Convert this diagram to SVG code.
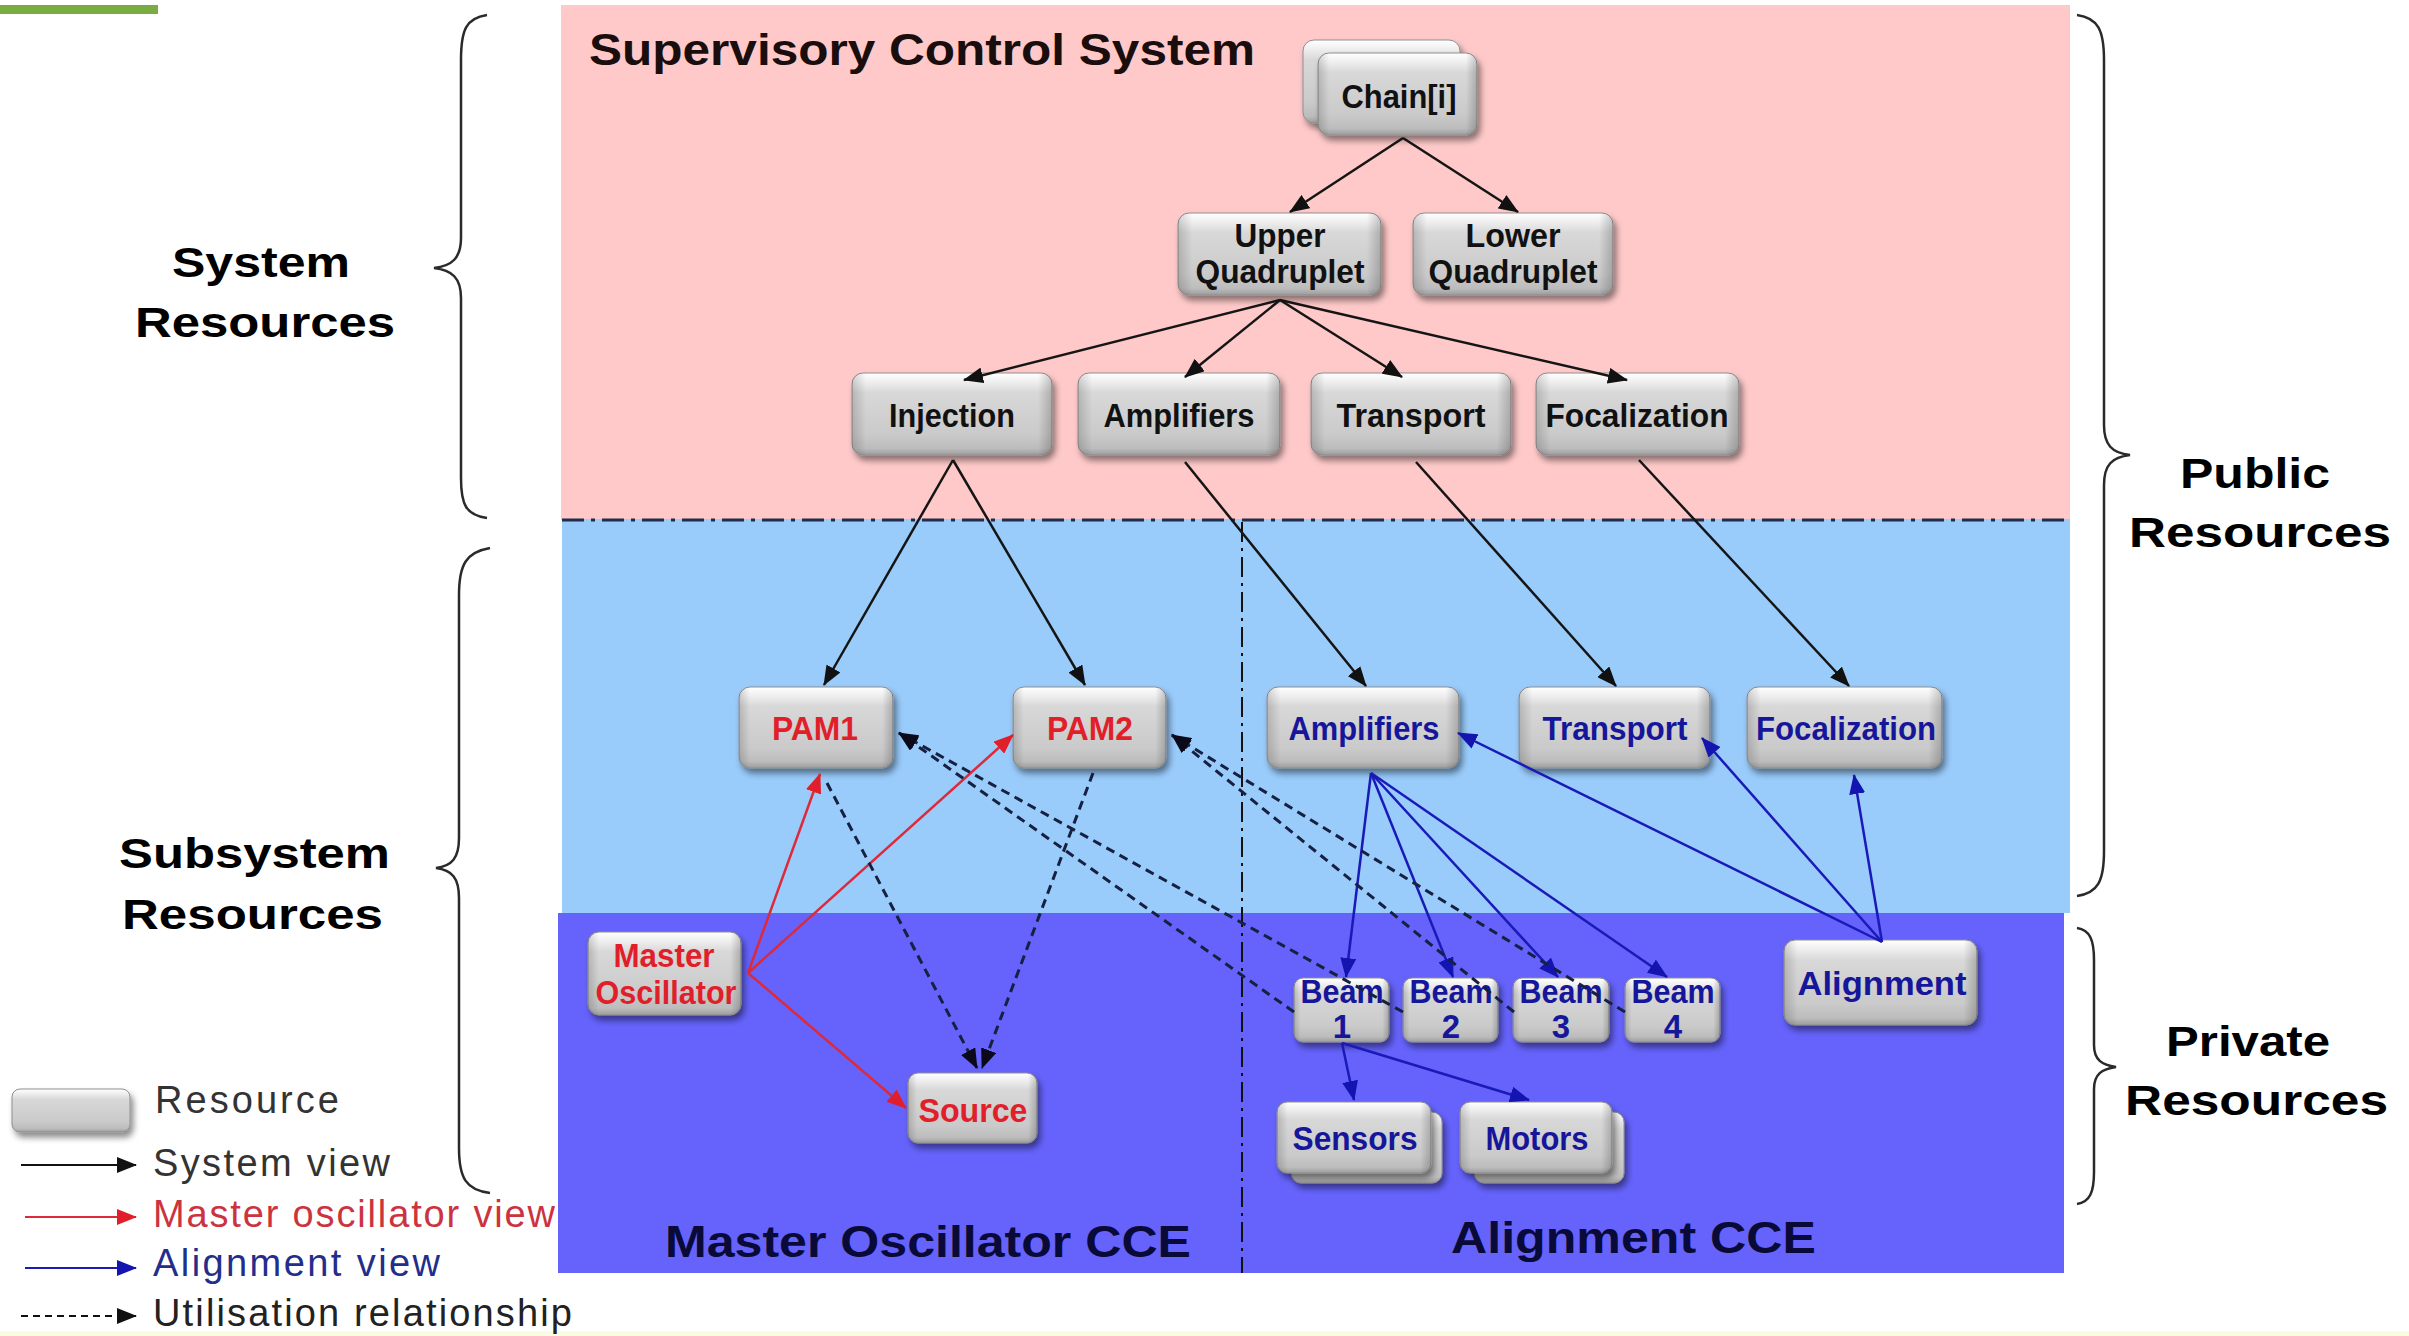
<svg xmlns="http://www.w3.org/2000/svg" width="2409" height="1336" viewBox="0 0 2409 1336">
<defs>
<style>
.box{fill:url(#gBox);stroke:#8f8f8f;stroke-width:1;filter:url(#sh)}
.side{fill:url(#gSide);pointer-events:none}
.nt{font-family:"Liberation Sans",Arial,sans-serif;font-weight:bold;font-size:33px;text-anchor:middle}
.k{fill:#111}
.r{fill:#e01f2b}
.b{fill:#16169a}
.big{font-family:"Liberation Sans",Arial,sans-serif;font-weight:bold;font-size:42px;fill:#000}
.title{font-family:"Liberation Sans",Arial,sans-serif;font-weight:bold;font-size:45px}
.leg{font-family:"Liberation Sans",Arial,sans-serif;font-size:38px}
.brace{fill:none;stroke:#2a2a2a;stroke-width:2.5}
.sys{fill:none;stroke:#151515;stroke-width:2.5;marker-end:url(#mK)}
.mo{fill:none;stroke:#dd2a3a;stroke-width:2.5;marker-end:url(#mR)}
.al{fill:none;stroke:#1a1ab8;stroke-width:2.5;marker-end:url(#mB)}
.ut{fill:none;stroke:#162040;stroke-width:3;stroke-dasharray:9 6;marker-end:url(#mD)}
</style>
<linearGradient id="gBox" x1="0" y1="0" x2="0" y2="1">
<stop offset="0" stop-color="#ffffff"/>
<stop offset="0.1" stop-color="#f0f0f0"/>
<stop offset="0.24" stop-color="#d8d8d8"/>
<stop offset="0.75" stop-color="#cacaca"/>
<stop offset="0.92" stop-color="#bcbcbc"/>
<stop offset="1" stop-color="#9c9c9c"/>
</linearGradient>
<linearGradient id="gSide" x1="0" y1="0" x2="1" y2="0">
<stop offset="0" stop-color="#000" stop-opacity="0.16"/>
<stop offset="0.07" stop-color="#000" stop-opacity="0"/>
<stop offset="0.93" stop-color="#000" stop-opacity="0"/>
<stop offset="1" stop-color="#000" stop-opacity="0.2"/>
</linearGradient>
<filter id="sh" x="-20%" y="-20%" width="150%" height="160%">
<feDropShadow dx="3" dy="5" stdDeviation="3" flood-color="#000" flood-opacity="0.45"/>
</filter>
<marker id="mK" markerUnits="userSpaceOnUse" markerWidth="20" markerHeight="16" refX="19" refY="8" orient="auto"><path d="M0,0 L20,8 L0,16 z" fill="#111"/></marker>
<marker id="mR" markerUnits="userSpaceOnUse" markerWidth="20" markerHeight="16" refX="19" refY="8" orient="auto"><path d="M0,0 L20,8 L0,16 z" fill="#e01f2b"/></marker>
<marker id="mB" markerUnits="userSpaceOnUse" markerWidth="20" markerHeight="16" refX="19" refY="8" orient="auto"><path d="M0,0 L20,8 L0,16 z" fill="#1414b0"/></marker>
<marker id="mD" markerUnits="userSpaceOnUse" markerWidth="20" markerHeight="16" refX="19" refY="8" orient="auto"><path d="M0,0 L20,8 L0,16 z" fill="#0a0a1a"/></marker>
</defs>

<rect width="2409" height="1336" fill="#ffffff"/>
<rect x="0" y="1331" width="2409" height="5" fill="#fbfbe2"/>
<rect x="0" y="5" width="158" height="9" fill="#79ad41"/>

<g id="regions">
<rect x="561" y="5" width="1509" height="515" fill="#ffc9c9"/>
<rect x="562" y="519" width="1508" height="394" fill="#99cbfb"/>
<rect x="558" y="913" width="1506" height="360" fill="#6563fc"/>
<line x1="562" y1="520" x2="2070" y2="520" stroke="#1f2c4a" stroke-width="3" stroke-dasharray="22 7 4 7"/>
<line x1="1242" y1="522" x2="1242" y2="1273" stroke="#111" stroke-width="2" stroke-dasharray="20 6 3 6"/>
<text class="title" x="589" y="65" fill="#1a0d0d" textLength="666" lengthAdjust="spacingAndGlyphs">Supervisory Control System</text>
<text class="title" x="665" y="1257" fill="#0a0a38" font-size="47" textLength="526" lengthAdjust="spacingAndGlyphs">Master Oscillator CCE</text>
<text class="title" x="1451" y="1253" fill="#0a0a38" font-size="47" textLength="365" lengthAdjust="spacingAndGlyphs">Alignment CCE</text>
</g>

<g id="braces">
<path class="brace" d="M487,15 C466,18 461,30 461,60 L461,238 C461,258 452,266 434,268 C452,270 461,278 461,298 L461,478 C461,505 466,515 487,518"/>
<path class="brace" d="M490,548 C466,552 459,565 459,595 L459,838 C459,858 452,866 436,868 C452,870 459,878 459,898 L459,1148 C459,1178 466,1190 490,1193"/>
<path class="brace" d="M2077,15 C2098,18 2104,30 2104,60 L2104,425 C2104,445 2112,453 2130,455 C2112,457 2104,465 2104,485 L2104,851 C2104,881 2098,893 2077,896"/>
<path class="brace" d="M2077,928 C2090,930 2094,940 2094,960 L2094,1045 C2094,1060 2102,1065 2116,1067 C2102,1069 2094,1074 2094,1089 L2094,1172 C2094,1192 2090,1202 2077,1204"/>
<text class="big" x="172" y="277" textLength="178" lengthAdjust="spacingAndGlyphs">System</text>
<text class="big" x="135" y="337" textLength="260" lengthAdjust="spacingAndGlyphs">Resources</text>
<text class="big" x="119" y="868" textLength="271" lengthAdjust="spacingAndGlyphs">Subsystem</text>
<text class="big" x="122" y="929" textLength="261" lengthAdjust="spacingAndGlyphs">Resources</text>
<text class="big" x="2180" y="488" textLength="150" lengthAdjust="spacingAndGlyphs">Public</text>
<text class="big" x="2129" y="547" textLength="262" lengthAdjust="spacingAndGlyphs">Resources</text>
<text class="big" x="2166" y="1056" textLength="164" lengthAdjust="spacingAndGlyphs">Private</text>
<text class="big" x="2125" y="1115" textLength="263" lengthAdjust="spacingAndGlyphs">Resources</text>
</g>

<g id="legend">
<rect class="box" x="12" y="1089" width="118" height="43" rx="8"/>
<text class="leg" x="155" y="1113" fill="#333" textLength="184">Resource</text>
<line x1="21" y1="1165" x2="136" y2="1165" stroke="#111" stroke-width="2" marker-end="url(#mK)"/>
<text class="leg" x="153" y="1176" fill="#333" textLength="237">System view</text>
<line x1="25" y1="1217" x2="136" y2="1217" stroke="#dd2a3a" stroke-width="2" marker-end="url(#mR)"/>
<text class="leg" x="153" y="1227" fill="#cc3340" textLength="402">Master oscillator view</text>
<line x1="25" y1="1268" x2="136" y2="1268" stroke="#1a1ab8" stroke-width="2" marker-end="url(#mB)"/>
<text class="leg" x="153" y="1276" fill="#232e8c" textLength="287">Alignment view</text>
<line x1="21" y1="1316" x2="136" y2="1316" stroke="#111" stroke-width="2" stroke-dasharray="7 5" marker-end="url(#mK)"/>
<text class="leg" x="153" y="1326" fill="#222" textLength="419">Utilisation relationship</text>
</g>

<g id="n-chain">
<rect class="box" x="1303" y="40" width="157" height="83" rx="11"/>
<rect class="box" x="1318" y="53" width="159" height="82" rx="11"/>
<rect class="side" x="1318" y="53" width="159" height="82" rx="11"/>
<text class="nt k" x="1399" y="108" textLength="115" lengthAdjust="spacingAndGlyphs">Chain[i]</text>
</g>
<g id="n-upperq">
<rect class="box" x="1178" y="213" width="203" height="82" rx="11"/>
<rect class="side" x="1178" y="213" width="203" height="82" rx="11"/>
<text class="nt k" x="1280" y="247" textLength="91" lengthAdjust="spacingAndGlyphs">Upper</text>
<text class="nt k" x="1280" y="283" textLength="169" lengthAdjust="spacingAndGlyphs">Quadruplet</text>
</g>
<g id="n-lowerq">
<rect class="box" x="1413" y="213" width="200" height="82" rx="11"/>
<rect class="side" x="1413" y="213" width="200" height="82" rx="11"/>
<text class="nt k" x="1513" y="247" textLength="95" lengthAdjust="spacingAndGlyphs">Lower</text>
<text class="nt k" x="1513" y="283" textLength="169" lengthAdjust="spacingAndGlyphs">Quadruplet</text>
</g>
<g id="n-injection">
<rect class="box" x="852" y="373" width="200" height="82" rx="11"/>
<rect class="side" x="852" y="373" width="200" height="82" rx="11"/>
<text class="nt k" x="952" y="427" textLength="126" lengthAdjust="spacingAndGlyphs">Injection</text>
</g>
<g id="n-amplifiers">
<rect class="box" x="1078" y="373" width="202" height="82" rx="11"/>
<rect class="side" x="1078" y="373" width="202" height="82" rx="11"/>
<text class="nt k" x="1179" y="427" textLength="151" lengthAdjust="spacingAndGlyphs">Amplifiers</text>
</g>
<g id="n-transport">
<rect class="box" x="1311" y="373" width="200" height="82" rx="11"/>
<rect class="side" x="1311" y="373" width="200" height="82" rx="11"/>
<text class="nt k" x="1411" y="427" textLength="149" lengthAdjust="spacingAndGlyphs">Transport</text>
</g>
<g id="n-focalization">
<rect class="box" x="1536" y="373" width="203" height="82" rx="11"/>
<rect class="side" x="1536" y="373" width="203" height="82" rx="11"/>
<text class="nt k" x="1637" y="427" textLength="183" lengthAdjust="spacingAndGlyphs">Focalization</text>
</g>

<g id="n-pam1">
<rect class="box" x="739" y="687" width="154" height="81" rx="11"/>
<rect class="side" x="739" y="687" width="154" height="81" rx="11"/>
<text class="nt r" x="815" y="740" textLength="86" lengthAdjust="spacingAndGlyphs">PAM1</text>
</g>
<g id="n-pam2">
<rect class="box" x="1013" y="687" width="153" height="81" rx="11"/>
<rect class="side" x="1013" y="687" width="153" height="81" rx="11"/>
<text class="nt r" x="1090" y="740" textLength="86" lengthAdjust="spacingAndGlyphs">PAM2</text>
</g>
<g id="n-amps-sub">
<rect class="box" x="1267" y="687" width="192" height="81" rx="11"/>
<rect class="side" x="1267" y="687" width="192" height="81" rx="11"/>
<text class="nt b" x="1364" y="740" textLength="151" lengthAdjust="spacingAndGlyphs">Amplifiers</text>
</g>
<g id="n-transport-sub">
<rect class="box" x="1519" y="687" width="191" height="81" rx="11"/>
<rect class="side" x="1519" y="687" width="191" height="81" rx="11"/>
<text class="nt b" x="1615" y="740" textLength="145" lengthAdjust="spacingAndGlyphs">Transport</text>
</g>
<g id="n-focal-sub">
<rect class="box" x="1747" y="687" width="195" height="81" rx="11"/>
<rect class="side" x="1747" y="687" width="195" height="81" rx="11"/>
<text class="nt b" x="1846" y="740" textLength="180" lengthAdjust="spacingAndGlyphs">Focalization</text>
</g>

<g id="n-master">
<rect class="box" x="588" y="932" width="153" height="83" rx="11"/>
<rect class="side" x="588" y="932" width="153" height="83" rx="11"/>
<text class="nt r" x="664" y="967" textLength="101" lengthAdjust="spacingAndGlyphs">Master</text>
<text class="nt r" x="666" y="1004" textLength="141" lengthAdjust="spacingAndGlyphs">Oscillator</text>
</g>
<g id="n-source">
<rect class="box" x="908" y="1073" width="129" height="70" rx="10"/>
<rect class="side" x="908" y="1073" width="129" height="70" rx="10"/>
<text class="nt r" x="973" y="1122" textLength="109" lengthAdjust="spacingAndGlyphs">Source</text>
</g>
<g id="n-beam1">
<rect class="box" x="1294" y="978" width="95" height="64" rx="9"/>
<rect class="side" x="1294" y="978" width="95" height="64" rx="9"/>
<text class="nt b" x="1342" y="1003" font-size="30" textLength="83" lengthAdjust="spacingAndGlyphs">Beam</text>
<text class="nt b" x="1342" y="1038" font-size="30">1</text>
</g>
<g id="n-beam2">
<rect class="box" x="1403" y="978" width="95" height="64" rx="9"/>
<rect class="side" x="1403" y="978" width="95" height="64" rx="9"/>
<text class="nt b" x="1451" y="1003" font-size="30" textLength="83" lengthAdjust="spacingAndGlyphs">Beam</text>
<text class="nt b" x="1451" y="1038" font-size="30">2</text>
</g>
<g id="n-beam3">
<rect class="box" x="1513" y="978" width="96" height="64" rx="9"/>
<rect class="side" x="1513" y="978" width="96" height="64" rx="9"/>
<text class="nt b" x="1561" y="1003" font-size="30" textLength="83" lengthAdjust="spacingAndGlyphs">Beam</text>
<text class="nt b" x="1561" y="1038" font-size="30">3</text>
</g>
<g id="n-beam4">
<rect class="box" x="1625" y="978" width="95" height="64" rx="9"/>
<rect class="side" x="1625" y="978" width="95" height="64" rx="9"/>
<text class="nt b" x="1673" y="1003" font-size="30" textLength="83" lengthAdjust="spacingAndGlyphs">Beam</text>
<text class="nt b" x="1673" y="1038" font-size="30">4</text>
</g>
<g id="n-alignment">
<rect class="box" x="1784" y="940" width="193" height="85" rx="11"/>
<rect class="side" x="1784" y="940" width="193" height="85" rx="11"/>
<text class="nt b" x="1882" y="995" textLength="169" lengthAdjust="spacingAndGlyphs">Alignment</text>
</g>
<g id="n-sensors">
<rect class="box" x="1291" y="1112" width="151" height="71" rx="10"/>
<rect class="box" x="1277" y="1102" width="154" height="71" rx="10"/>
<rect class="side" x="1277" y="1102" width="154" height="71" rx="10"/>
<text class="nt b" x="1355" y="1150" textLength="125" lengthAdjust="spacingAndGlyphs">Sensors</text>
</g>
<g id="n-motors">
<rect class="box" x="1474" y="1112" width="150" height="71" rx="10"/>
<rect class="box" x="1460" y="1102" width="152" height="71" rx="10"/>
<rect class="side" x="1460" y="1102" width="152" height="71" rx="10"/>
<text class="nt b" x="1537" y="1150" textLength="103" lengthAdjust="spacingAndGlyphs">Motors</text>
</g>

<g id="connectors">
<line class="sys" x1="1403" y1="138" x2="1290" y2="212"/>
<line class="sys" x1="1403" y1="138" x2="1518" y2="212"/>
<line class="sys" x1="1280" y1="300" x2="964" y2="380"/>
<line class="sys" x1="1280" y1="300" x2="1185" y2="377"/>
<line class="sys" x1="1280" y1="300" x2="1402" y2="377"/>
<line class="sys" x1="1280" y1="300" x2="1627" y2="380"/>
<line class="sys" x1="953" y1="460" x2="824" y2="685"/>
<line class="sys" x1="953" y1="460" x2="1085" y2="685"/>
<line class="sys" x1="1185" y1="462" x2="1366" y2="686"/>
<line class="sys" x1="1416" y1="462" x2="1616" y2="686"/>
<line class="sys" x1="1639" y1="460" x2="1849" y2="686"/>

<line class="mo" x1="748" y1="973" x2="820" y2="774"/>
<line class="mo" x1="748" y1="973" x2="1013" y2="735"/>
<line class="mo" x1="748" y1="973" x2="906" y2="1108"/>

<line class="al" x1="1882" y1="942" x2="1458" y2="733"/>
<line class="al" x1="1882" y1="942" x2="1702" y2="738"/>
<line class="al" x1="1882" y1="942" x2="1854" y2="775"/>
<line class="al" x1="1371" y1="773" x2="1346" y2="977"/>
<line class="al" x1="1371" y1="773" x2="1453" y2="977"/>
<line class="al" x1="1371" y1="773" x2="1558" y2="977"/>
<line class="al" x1="1371" y1="773" x2="1667" y2="977"/>
<line class="al" x1="1342" y1="1043" x2="1354" y2="1100"/>
<line class="al" x1="1342" y1="1043" x2="1529" y2="1100"/>

<line class="ut" x1="1294" y1="1012" x2="899" y2="733"/>
<line class="ut" x1="1403" y1="1012" x2="899" y2="733"/>
<line class="ut" x1="1514" y1="1012" x2="1172" y2="735"/>
<line class="ut" x1="1625" y1="1012" x2="1172" y2="735"/>
<line class="ut" x1="827" y1="783" x2="977" y2="1068"/>
<line class="ut" x1="1093" y1="773" x2="982" y2="1068"/>
</g>
</svg>
